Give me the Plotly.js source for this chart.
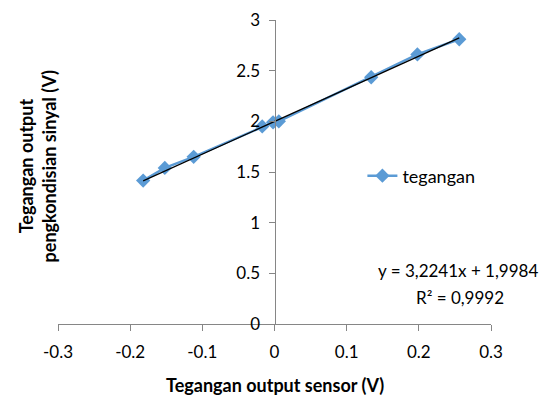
<!DOCTYPE html>
<html>
<head>
<meta charset="utf-8">
<script src="https://cdn.plot.ly/plotly-3.0.1.min.js"></script>
<style>html,body{margin:0;padding:0;background:#fff;}#chart{width:547px;height:397px;}</style>
</head>
<body>
<div id="chart"></div>
<script>
// Data
const seriesName = "tegangan";
const sensorVolt = [-0.182, -0.152, -0.112, -0.017, -0.002, 0.006, 0.134, 0.198, 0.256];
const outputVolt = [1.415, 1.54, 1.65, 1.95, 1.99, 2.00, 2.435, 2.66, 2.81];
const trendSlope = 3.2241;
const trendIntercept = 1.9984;
const equationText = "y = 3,2241x + 1,9984";
const r2Text = "R² = 0,9992";
const xTickVals = [-0.3, -0.2, -0.1, 0, 0.1, 0.2, 0.3];
const xTickText = ["-0.3", "-0.2", "-0.1", "0", "0.1", "0.2", "0.3"];
const yTickVals = [0, 0.5, 1, 1.5, 2, 2.5, 3];
const yTickText = ["0", "0.5", "1", "1.5", "2", "2.5", "3"];
const xTitle = "Tegangan output sensor (V)";
const yTitleLine1 = "Tegangan output";
const yTitleLine2 = "pengkondisian sinyal (V)";

const xMin = Math.min(...sensorVolt), xMax = Math.max(...sensorVolt);
const trendX = [xMin, xMax];
const trendY = trendX.map(x => trendSlope * x + trendIntercept);

const FONT = "Lato, 'Open Sans', sans-serif";
const axisColor = "#868686";

const traces = [
  {
    x: sensorVolt, y: outputVolt, name: seriesName, type: "scatter", mode: "lines+markers",
    line: {color: "#5B9BD5", width: 2.5},
    marker: {symbol: "diamond", size: 11, color: "#5B9BD5"}
  },
  {
    x: trendX, y: trendY, type: "scatter", mode: "lines", showlegend: false,
    line: {color: "#000000", width: 1.3}, hoverinfo: "skip"
  }
];

const layout = {
  width: 547, height: 397,
  margin: {l: 58, r: 56, t: 20, b: 73},
  paper_bgcolor: "#fff", plot_bgcolor: "#fff",
  font: {family: FONT, size: 17, color: "#000"},
  showlegend: true,
  legend: {x: 0.703, y: 0.487, xanchor: "left", yanchor: "middle", bgcolor: "rgba(0,0,0,0)",
           font: {family: FONT, size: 18, color: "#000"}},
  xaxis: {
    range: [-0.3, 0.3], tickvals: xTickVals, ticktext: xTickText,
    showgrid: false, zeroline: false, showline: true, linecolor: axisColor, linewidth: 1,
    ticks: "outside", ticklen: 6, tickcolor: axisColor, ticklabelstandoff: 7,
    tickfont: {family: FONT, size: 17, color: "#000"}
  },
  yaxis: {
    range: [0, 3], tickvals: yTickVals, ticktext: yTickText,
    anchor: "free", position: 0.5,
    showgrid: false, zeroline: false, showline: true, linecolor: axisColor, linewidth: 1,
    ticks: "outside", ticklen: 6, tickcolor: axisColor, ticklabelstandoff: 5,
    tickfont: {family: FONT, size: 17, color: "#000"}
  },
  annotations: [
    {text: xTitle, xref: "paper", yref: "paper", x: 0.5, y: -0.2, xanchor: "center", yanchor: "middle",
     showarrow: false, font: {family: FONT, size: 18, color: "#000", weight: "bold"}},
    {text: yTitleLine1, xref: "paper", yref: "paper", x: -0.073, y: 0.52, xanchor: "center", yanchor: "middle",
     textangle: -90, showarrow: false, font: {family: FONT, size: 18, color: "#000", weight: "bold"}},
    {text: yTitleLine2, xref: "paper", yref: "paper", x: -0.022, y: 0.52, xanchor: "center", yanchor: "middle",
     textangle: -90, showarrow: false, font: {family: FONT, size: 18, color: "#000", weight: "bold"}},
    {text: equationText, xref: "paper", yref: "paper", x: (458-58)/433, y: (324-270)/304, xanchor: "center", yanchor: "middle",
     showarrow: false, font: {family: FONT, size: 17, color: "#000"}},
    {text: r2Text, xref: "paper", yref: "paper", x: (460-58)/433, y: (324-297)/304, xanchor: "center", yanchor: "middle",
     showarrow: false, font: {family: FONT, size: 17, color: "#000"}}
  ]
};

Plotly.newPlot("chart", traces, layout, {staticPlot: true, displayModeBar: false});
</script>
</body>
</html>
